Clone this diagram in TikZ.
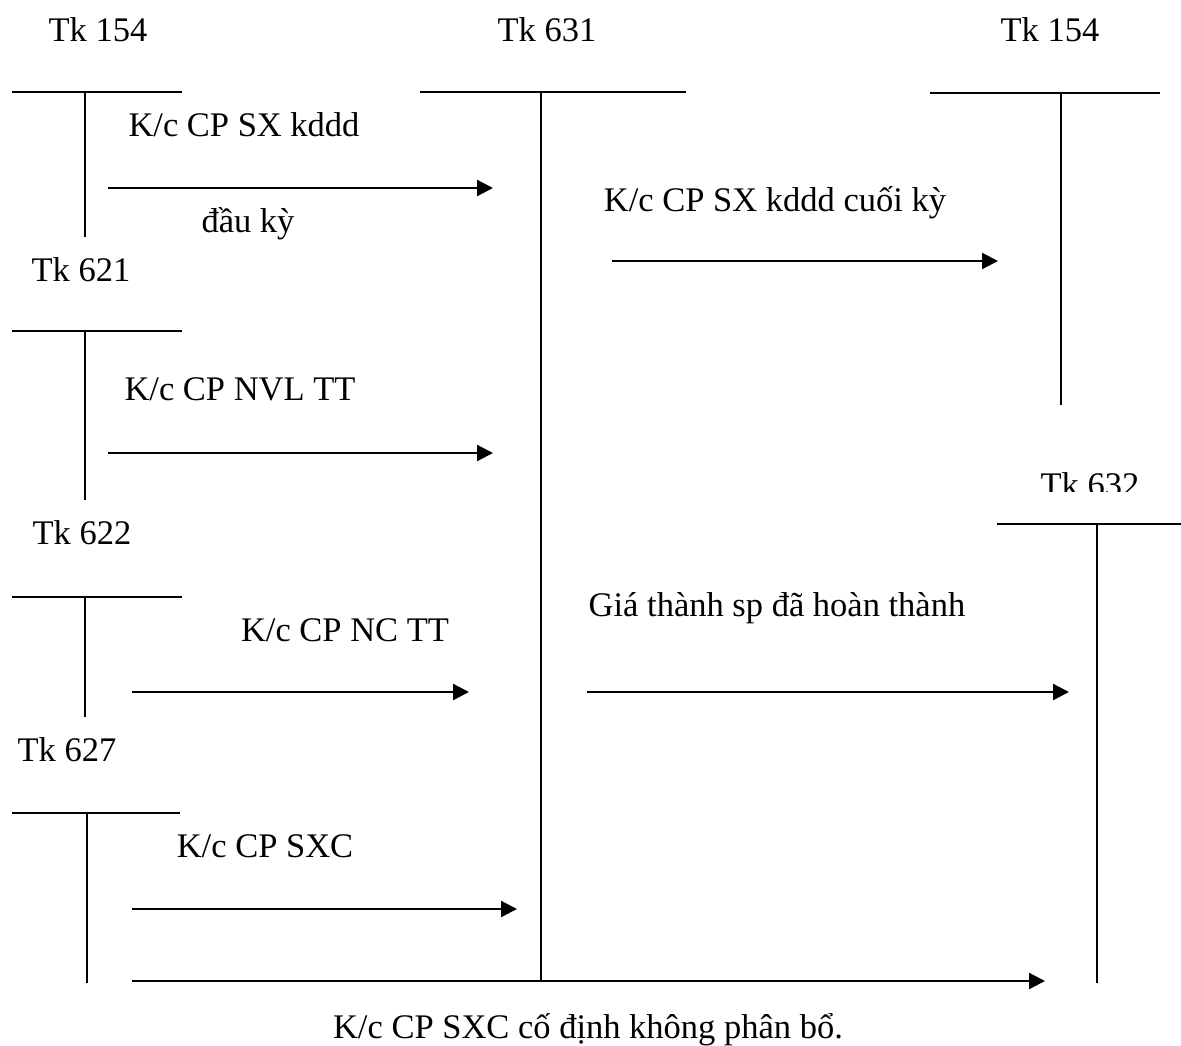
\documentclass[tikz,border=0pt]{standalone}
\usepackage{fontspec}
\setmainfont{Liberation Serif}
\usetikzlibrary{arrows.meta}

\begin{document}
\begin{tikzpicture}[x=1pt, y=-1pt,
    lbl/.style={anchor=base, inner sep=0pt, font=\fontsize{34.5}{40}\selectfont},
    tline/.style={line width=2pt},
    flow/.style={line width=2.3pt, -{Triangle[length=16pt,width=16pt]}}]
  \useasboundingbox (0,0) rectangle (1181,1045);
  % account names
  \node[lbl] (n154a) at (98,41)   {Tk 154};
  \node[lbl] (n631)  at (547,41)  {Tk 631};
  \node[lbl] (n154b) at (1050,41) {Tk 154};
  \node[lbl] (n621)  at (81,281)  {Tk 621};
  \node[lbl] (n622)  at (82,544)  {Tk 622};
  \node[lbl] (n627)  at (67,761)  {Tk 627};
  \begin{scope}
    \clip (950,440) rectangle (1181,491);
    \node[lbl] (n632) at (1090,496) {Tk 632};
  \end{scope}
  % T-accounts: name/x/top/bottom/left/right
  \foreach \n/\x/\t/\b/\l/\r in {a154/85/92/237/12/182, a621/85/331/500/12/182,
      a622/85/597/717/12/182, a627/87/813/983/12/180, a631/541/92/980/420/686,
      b154/1061/93/405/930/1160, a632/1097/524/983/997/1181}{
    \coordinate (\n-l) at (\l,\t);
    \coordinate (\n-r) at (\r,\t);
    \coordinate (\n-t) at (\x,\t);
    \coordinate (\n-b) at (\x,\b);
    \draw[tline] (\n-l) -- (\n-r);
    \draw[tline] (\n-t) -- (\n-b);
  }
  % transfer arrows: name/y/from/to
  \foreach \n/\y/\s/\e in {f1/188/108/493, f2/261/612/998, f3/453/108/493,
      f4/692/132/469, f5/692/587/1069, f6/909/132/517, f7/981/132/1045}{
    \coordinate (\n-s) at (\s,\y);
    \coordinate (\n-e) at (\e,\y);
    \draw[flow] (\n-s) -- (\n-e);
  }
  % labels on the arrows
  \node[lbl] (t1a) at (244,136)  {K/c CP SX kddd};
  \node[lbl] (t1b) at (248,232)  {đầu kỳ};
  \node[lbl] (t2)  at (775,211)  {K/c CP SX kddd cuối kỳ};
  \node[lbl] (t3)  at (240,400)  {K/c CP NVL TT};
  \node[lbl] (t4)  at (345,641)  {K/c CP NC TT};
  \node[lbl] (t5)  at (777,616)  {Giá thành sp đã hoàn thành};
  \node[lbl] (t6)  at (265,857)  {K/c CP SXC};
  \node[lbl] (t7)  at (588,1038) {K/c CP SXC cố định không phân bổ.};
\end{tikzpicture}
\end{document}
